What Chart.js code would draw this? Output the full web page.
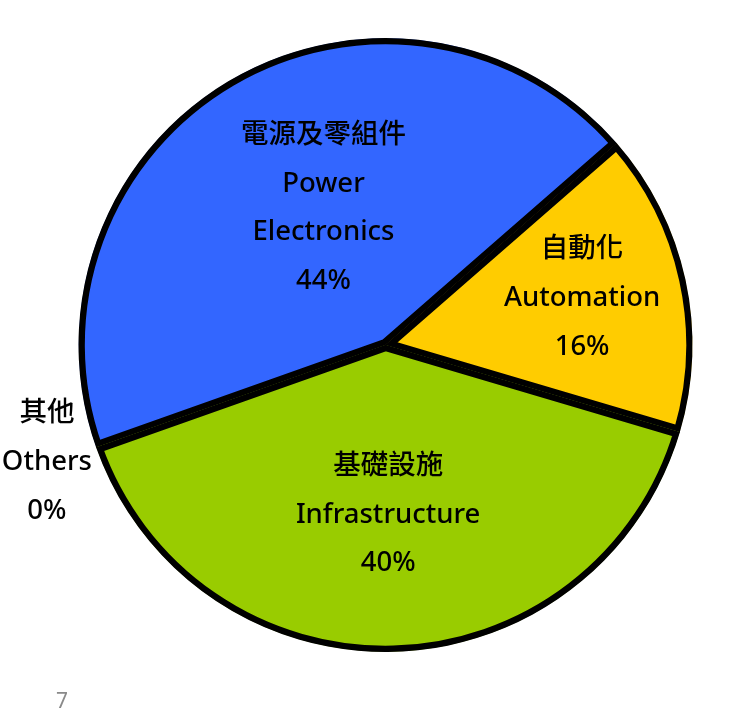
<!DOCTYPE html>
<html>
<head>
<meta charset="utf-8">
<script src="https://cdn.jsdelivr.net/npm/chart.js@4/dist/chart.umd.min.js"></script>
<style>
    html, body { margin: 0; padding: 0; background: #fff; overflow: hidden; }
    .wrap { position: relative; width: 734px; height: 709px; }
    .page-no {
        position: absolute; left: 56px; top: 686px;
        font-family: 'Noto Sans', sans-serif; font-size: 21px; color: #8a8a8a;
    }
</style>
</head>
<body>
<div class="wrap">
    <canvas id="pieChart" width="734" height="709"></canvas>
    <div class="page-no">7</div>
</div>
<script>
// Segment data
const labelsZh = ['電源及零組件', '自動化', '基礎設施', '其他'];
const labelsEn = [['Power', 'Electronics'], ['Automation'], ['Infrastructure'], ['Others']];
const shares = [44, 16, 40, 0];
const sliceColors = ['#3366FF', '#FFCC00', '#99CC00', '#BFBFBF'];

// label placement: fraction of radius, angle nudge in degrees
const labelPlace = [
    { r: 0.495, a: 6.2 },
    { r: 0.66, a: -1.7 },
    { r: 0.547, a: 0.6 },
    { r: 1.165, a: 0.7 }
];

const sliceLabels = {
    id: 'sliceLabels',
    afterDatasetsDraw(chart) {
        const ctx = chart.ctx;
        const arcs = chart.getDatasetMeta(0).data;
        ctx.save();
        ctx.fillStyle = '#000';
        ctx.font = "500 27.5px 'Noto Sans', 'Noto Sans CJK TC', sans-serif";
        ctx.textAlign = 'center';
        ctx.textBaseline = 'middle';
        const lineH = 48.7;
        arcs.forEach((arc, i) => {
            const p = arc.getProps(['x', 'y', 'startAngle', 'endAngle', 'outerRadius'], true);
            const mid = (p.startAngle + p.endAngle) / 2 + labelPlace[i].a * Math.PI / 180;
            const cx = p.x + Math.cos(mid) * p.outerRadius * labelPlace[i].r;
            const cy = p.y + Math.sin(mid) * p.outerRadius * labelPlace[i].r + 2;
            const lines = [labelsZh[i], ...labelsEn[i], shares[i] + '%'];
            const top = cy - (lines.length - 1) * lineH / 2;
            lines.forEach((t, k) => ctx.fillText(t, cx, top + k * lineH));
        });
        ctx.restore();
    }
};

new Chart(document.getElementById('pieChart'), {
    type: 'pie',
    data: {
        labels: labelsZh,
        datasets: [{
            data: shares,
            backgroundColor: sliceColors,
            borderColor: '#000',
            borderWidth: 6,
            borderAlign: 'inner',
            hoverBorderWidth: 6
        }]
    },
    options: {
        responsive: false,
        animation: false,
        events: [],
        rotation: 250.5,
        radius: 307,
        layout: { padding: { left: 37, right: 0, top: 0, bottom: 19 } },
        plugins: {
            legend: { display: false },
            tooltip: { enabled: false }
        }
    },
    plugins: [sliceLabels]
});
</script>
</body>
</html>
